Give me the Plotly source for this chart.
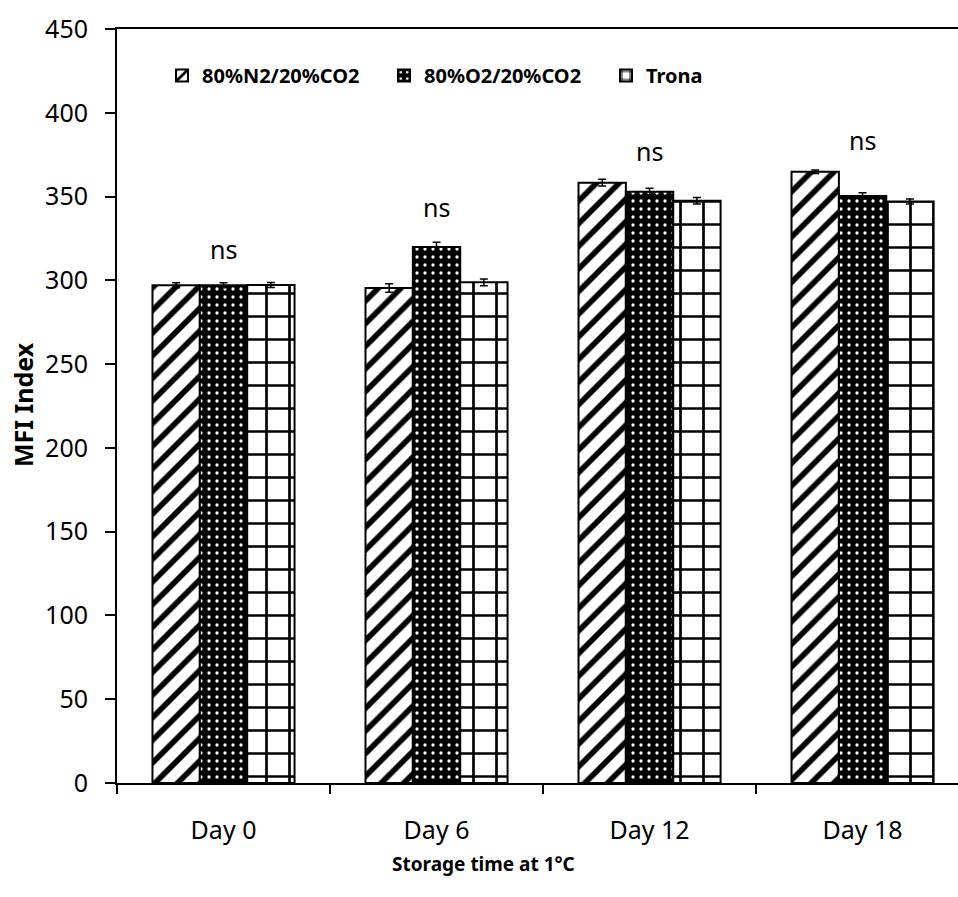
import plotly.graph_objects as go

categories = ["Day 0", "Day 6", "Day 12", "Day 18"]
series_names = ["80%N2/20%CO2", "80%O2/20%CO2", "Trona"]
n2_values = [297.0, 295.4, 358.3, 364.8]
o2_values = [297.0, 319.9, 352.9, 350.4]
trona_values = [297.2, 298.8, 347.5, 347.0]
n2_err = [1.5, 2.5, 2.0, 1.0]
o2_err = [1.5, 2.8, 2.0, 1.8]
trona_err = [1.5, 2.0, 2.0, 1.5]
sig_labels = ["ns", "ns", "ns", "ns"]
sig_y = [319, 344, 377, 384]
y_ticks = [0, 50, 100, 150, 200, 250, 300, 350, 400, 450]

FONT = "Noto Sans"

fig = go.Figure()

styles = [
    dict(color="white", pattern=dict(shape="/", fgcolor="black", bgcolor="white", size=16, solidity=0.35, fillmode="replace")),
    dict(color="black", pattern=dict(shape=".", fgcolor="white", bgcolor="black", size=8, solidity=0.13, fillmode="replace")),
    dict(color="white", pattern=dict(shape="+", fgcolor="black", bgcolor="white", size=23, solidity=0.22, fillmode="replace")),
]

for name, vals, errs, st in zip(series_names, [n2_values, o2_values, trona_values],
                                [n2_err, o2_err, trona_err], styles):
    fig.add_trace(go.Bar(
        name=name, x=categories, y=vals,
        marker=dict(color=st["color"], pattern=st["pattern"], line=dict(color="black", width=2)),
        error_y=dict(type="data", array=errs, color="black", thickness=1.5, width=4),
    ))

for c, lab, yy in zip(categories, sig_labels, sig_y):
    fig.add_annotation(x=c, y=yy, text=lab, showarrow=False, xref="x", yref="y",
                       font=dict(family=FONT, size=25, color="black"))

fig.add_annotation(x=(483 - 117) / 841, y=(783 - 864) / 754, xref="paper", yref="paper",
                   text="<b>Storage time at 1°C</b>", showarrow=False, yanchor="middle",
                   font=dict(family=FONT, size=19, color="black"))
fig.add_annotation(x=(23 - 117) / 841, y=(783 - 405) / 754, xref="paper", yref="paper",
                   text="<b>MFI Index</b>", showarrow=False, textangle=-90,
                   xanchor="center", yanchor="middle",
                   font=dict(family=FONT, size=25, color="black"))

fig.update_layout(
    width=958, height=897,
    margin=dict(l=117, r=0, t=29, b=114),
    paper_bgcolor="white", plot_bgcolor="white",
    barmode="group", bargap=0.333, bargroupgap=0,
    font=dict(family=FONT, color="black"),
    showlegend=True,
    legend=dict(orientation="h", x=(162 - 117) / 841, y=(783 - 56) / 754,
                xanchor="left", yanchor="top",
                font=dict(family=FONT, size=20, color="black", weight="bold"),
                entrywidth=177, entrywidthmode="pixels",
                bgcolor="rgba(0,0,0,0)"),
    xaxis=dict(range=[-0.5, 3.448], showline=True, linecolor="black", linewidth=2,
               mirror=True, ticks="outside", tickson="boundaries", ticklen=9,
               tickwidth=2, tickcolor="black", showgrid=False,
               ticklabelstandoff=24,
               tickfont=dict(family=FONT, size=25, color="black")),
    yaxis=dict(range=[0, 450], tickvals=y_ticks, showline=True, linecolor="black",
               linewidth=2, ticks="outside", ticklen=10, tickwidth=2, tickcolor="black",
               showgrid=False, zeroline=False, ticklabelstandoff=12,
               tickfont=dict(family=FONT, size=25, color="black")),
)

fig.write_html("out.html")
